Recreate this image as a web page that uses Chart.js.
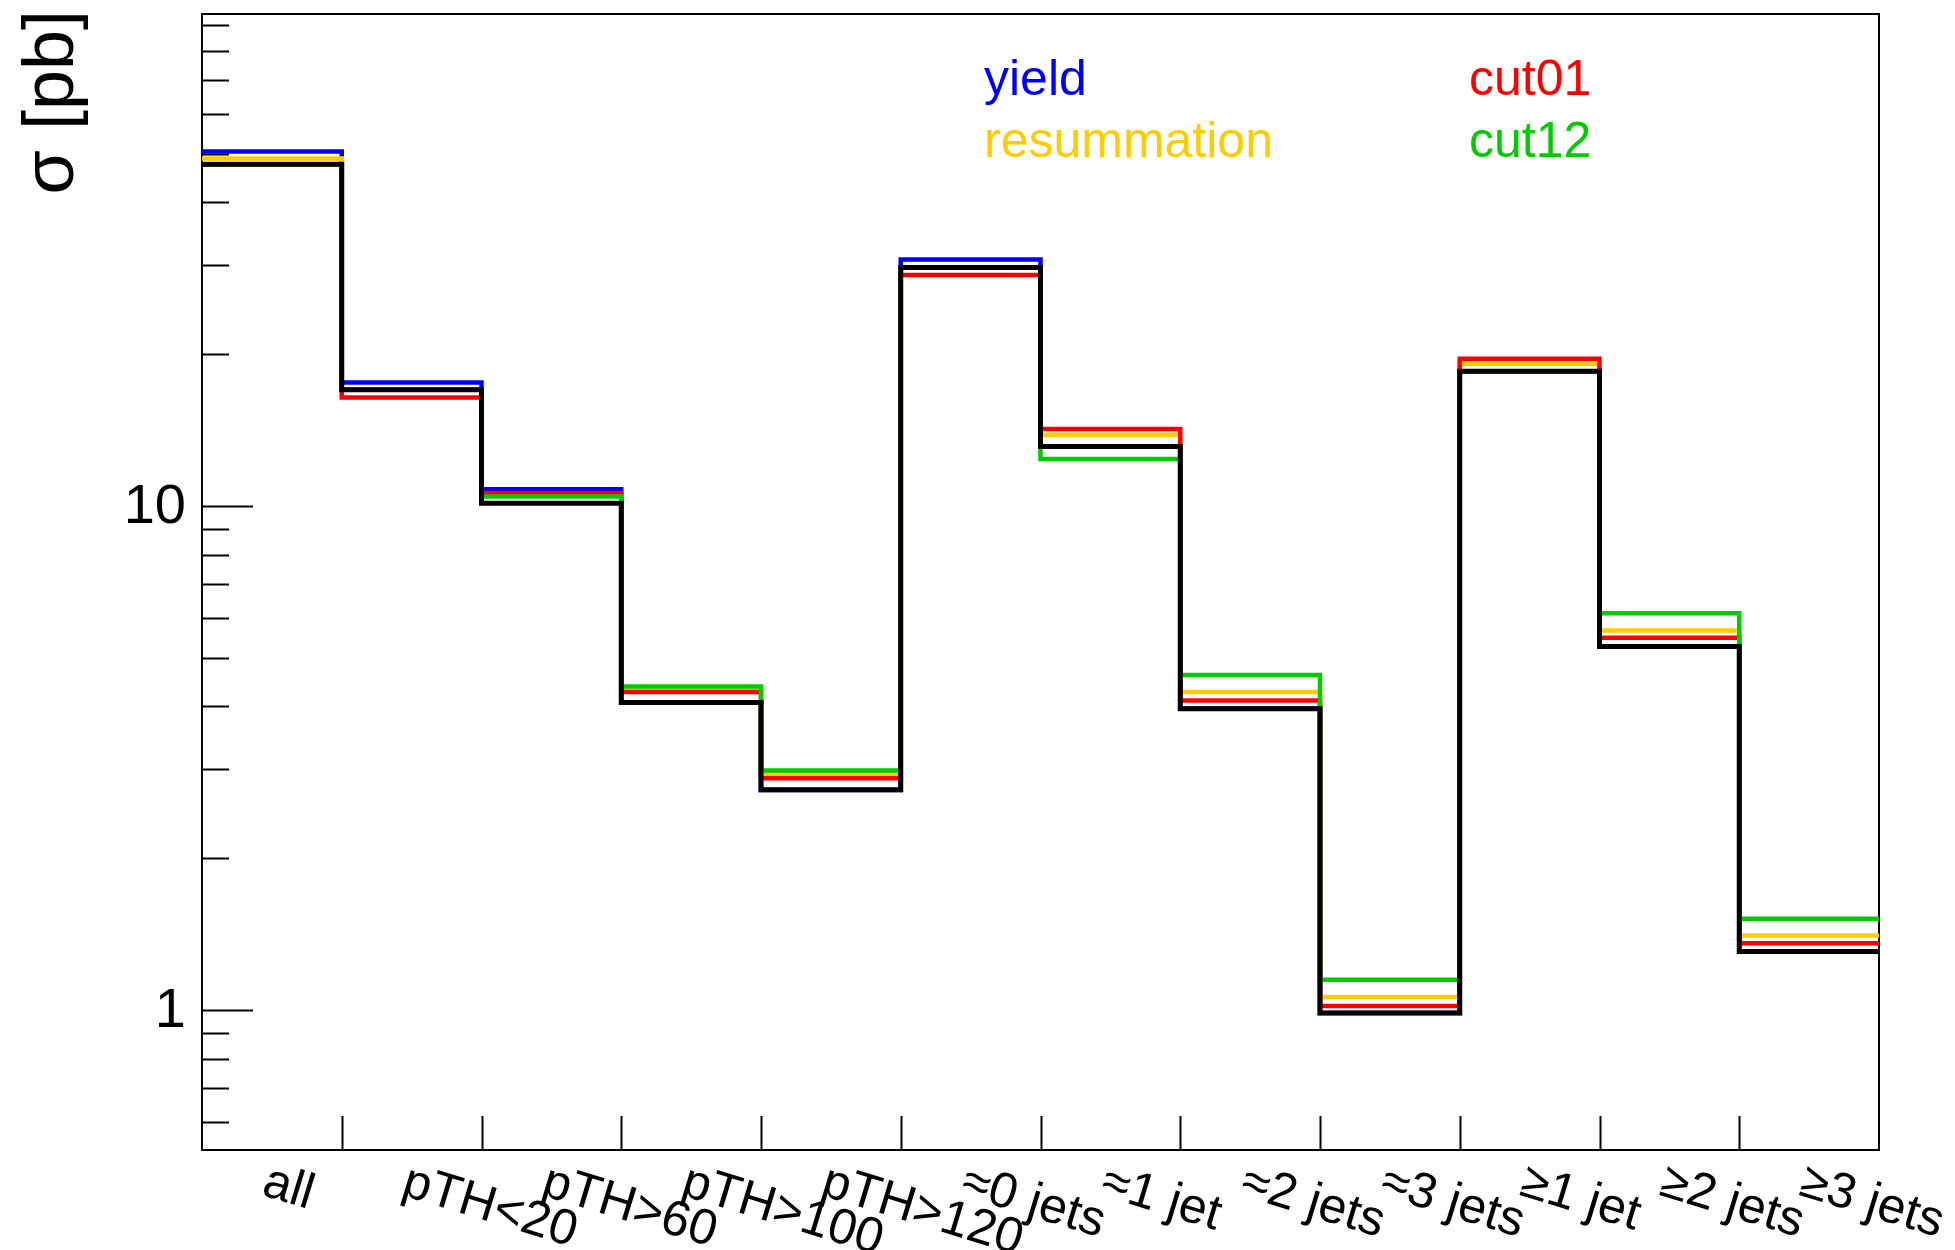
<!DOCTYPE html>
<html>
<head>
<meta charset="utf-8">
<script src="https://cdn.jsdelivr.net/npm/chart.js@4.4.1/dist/chart.umd.min.js"></script>
<style>
  html, body { margin: 0; padding: 0; background: #fff; }
  canvas { display: block; }
</style>
</head>
<body>
<canvas id="chart" width="1955" height="1250"></canvas>
<script>
// bin labels along x
const binLabels = ['all', 'pTH<20', 'pTH>60', 'pTH>100', 'pTH>120',
  '≈0 jets', '≈1 jet', '≈2 jets', '≈3 jets', '≥1 jet', '≥2 jets', '≥3 jets'];

// cross sections per bin, pb
const yieldVals   = [50.5, 17.57, 10.79, 4.07, 2.73,  30.8, 13.1,  3.96,  0.985, 18.5,  5.26, 1.305];
const resumVals   = [48.9, 17.0,  10.5,  4.32, 2.936, 29.7, 13.83, 4.27,  1.060, 19.13, 5.66, 1.404];
const cut01Vals   = [47.6, 16.40, 10.60, 4.27, 2.882, 28.7, 14.20, 4.11,  1.018, 19.57, 5.47, 1.356];
const cut12Vals   = [47.6, 17.0,  10.43, 4.38, 2.985, 29.7, 12.38, 4.615, 1.147, 18.5,  6.12, 1.516];
const nominalVals = [47.6, 16.99, 10.12, 4.07, 2.733, 29.7, 13.12, 3.956, 0.985, 18.49, 5.26, 1.305];

const yMajor = [1, 10];
const yMajorLabels = ['1', '10'];
const yMinor = [0.6, 0.7, 0.8, 0.9, 2, 3, 4, 5, 6, 7, 8, 9, 20, 30, 40, 50, 60, 70, 80, 90];

const legendNames = ['yield', 'resummation', 'cut01', 'cut12'];

// histogram -> step points (left edges + closing right edge)
function toSteps(vals) {
  const pts = vals.map((v, i) => ({ x: i, y: v }));
  pts.push({ x: vals.length, y: vals[vals.length - 1] });
  return pts;
}

const BLUE = '#0000ff', GOLD = '#ffcc00', RED = '#ff0000', GREEN = '#00cc00';

function histSet(label, vals, color, w) {
  return {
    label: label,
    data: toSteps(vals),
    borderColor: color,
    borderWidth: w,
    stepped: true,
    pointRadius: 0,
    fill: false,
    borderJoinStyle: 'miter',
    borderCapStyle: 'butt'
  };
}

const rootFrame = {
  id: 'rootFrame',
  beforeDatasetsDraw(chart) {
    const ctx = chart.ctx, a = chart.chartArea;
    const xs = chart.scales.x, ys = chart.scales.y;
    ctx.save();
    ctx.strokeStyle = '#000';
    ctx.lineWidth = 2;
    ctx.beginPath();
    yMinor.forEach(v => {
      const y = Math.round(ys.getPixelForValue(v)) + 0.5;
      ctx.moveTo(a.left, y); ctx.lineTo(a.left + 27, y);
    });
    yMajor.forEach(v => {
      const y = Math.round(ys.getPixelForValue(v)) + 0.5;
      ctx.moveTo(a.left, y); ctx.lineTo(a.left + 51, y);
    });
    for (let i = 1; i < binLabels.length; i++) {
      const x = Math.round(xs.getPixelForValue(i)) + 0.5;
      ctx.moveTo(x, a.bottom); ctx.lineTo(x, a.bottom - 34);
    }
    ctx.stroke();
    ctx.strokeRect(a.left, a.top, a.right - a.left, a.bottom - a.top);
    ctx.restore();
  },
  afterDraw(chart) {
    const ctx = chart.ctx, a = chart.chartArea;
    const xs = chart.scales.x, ys = chart.scales.y;
    ctx.save();
    ctx.fillStyle = '#000';

    // y tick labels
    ctx.font = '56px "Liberation Sans", Arial, sans-serif';
    ctx.textAlign = 'right';
    ctx.textBaseline = 'middle';
    yMajor.forEach((v, i) => {
      ctx.fillText(yMajorLabels[i], a.left - 16, ys.getPixelForValue(v) + 2);
    });

    // y title
    ctx.save();
    ctx.font = '72px "Liberation Sans", Arial, sans-serif';
    ctx.translate(73, 10);
    ctx.rotate(-Math.PI / 2);
    ctx.textAlign = 'right';
    ctx.textBaseline = 'alphabetic';
    ctx.fillText('σ [pb]', 0, 0);
    ctx.restore();

    // slanted bin labels
    const fs = 50, ang = 17 * Math.PI / 180;
    ctx.font = fs + 'px "Liberation Sans", Arial, sans-serif';
    ctx.textAlign = 'left';
    ctx.textBaseline = 'alphabetic';
    binLabels.forEach((lab, i) => {
      const cx = xs.getPixelForValue(i + 0.5);
      ctx.save();
      ctx.translate(cx - 1, a.bottom + 10);
      ctx.rotate(ang);
      ctx.fillText(lab, 0, fs * 0.72);
      ctx.restore();
    });

    // legend
    ctx.font = '50px "Liberation Sans", Arial, sans-serif';
    ctx.textAlign = 'left';
    ctx.textBaseline = 'alphabetic';
    const legPos = [[984, 95], [984, 157], [1469, 95], [1469, 157]];
    const legCol = [BLUE, GOLD, RED, GREEN];
    legendNames.forEach((n, i) => {
      ctx.fillStyle = legCol[i];
      ctx.fillText(n, legPos[i][0], legPos[i][1]);
    });
    ctx.restore();
  }
};

new Chart(document.getElementById('chart'), {
  type: 'line',
  data: {
    // first dataset is drawn on top
    datasets: [
      histSet('nominal', nominalVals, '#000000', 5),
      histSet(legendNames[3], cut12Vals, GREEN, 4.5),
      histSet(legendNames[2], cut01Vals, RED, 4.5),
      histSet(legendNames[1], resumVals, GOLD, 4.5),
      histSet(legendNames[0], yieldVals, BLUE, 4.5)
    ]
  },
  options: {
    responsive: false,
    animation: false,
    devicePixelRatio: 1,
    layout: { padding: { left: 202, right: 76, top: 14, bottom: 100 } },
    plugins: { legend: { display: false }, tooltip: { enabled: false } },
    scales: {
      x: { type: 'linear', min: 0, max: binLabels.length, display: false },
      y: { type: 'logarithmic', min: 0.527, max: 94.6, display: false }
    }
  },
  plugins: [rootFrame]
});
</script>
</body>
</html>
